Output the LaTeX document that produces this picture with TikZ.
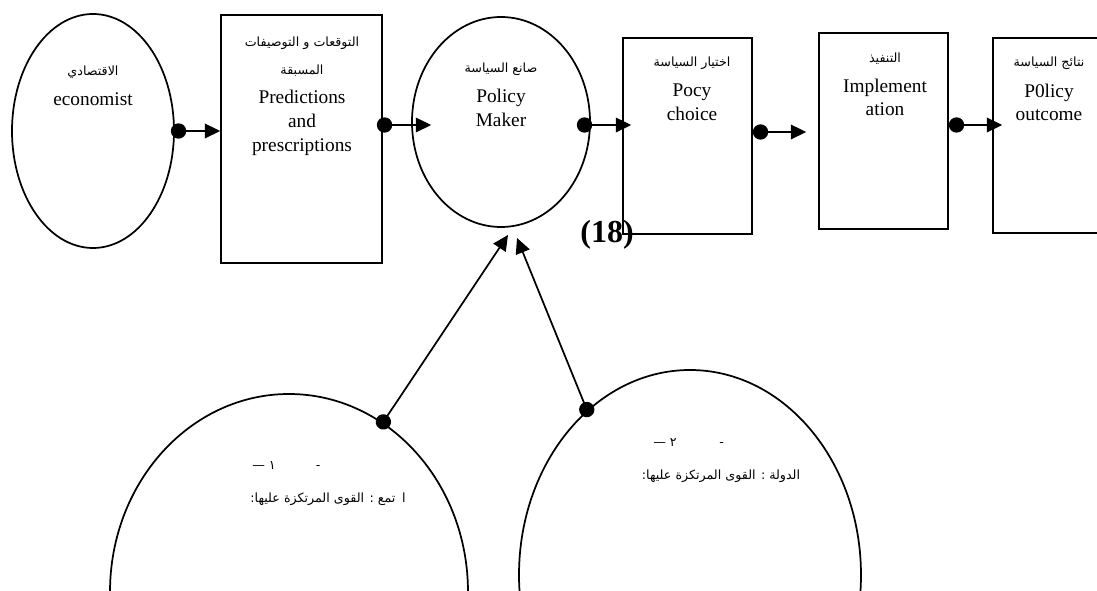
\documentclass[tikz,border=0pt]{standalone}
\usepackage{fontspec}
\setmainfont{Liberation Serif}
\newfontfamily\arabicfont[Script=Arabic]{DejaVu Sans}
\TeXXeTstate=1
\usetikzlibrary{arrows.meta,shapes.geometric}

\begin{document}
\begin{tikzpicture}[x=0.75pt, y=-0.75pt]
  % Sizes
  \def\px{0.75pt}
  \def\lw{1.3pt}
  %
  \tikzset{
    obox/.style={draw, line width=\lw, rectangle, inner sep=0pt},
    oval/.style={draw, line width=\lw, ellipse, inner sep=0pt},
    entxt/.style={anchor=base, inner sep=0pt, font=\fontsize{14.5}{18}\selectfont},
    artxt/.style={anchor=base, inner sep=0pt, font=\fontsize{9.5}{11}\selectfont\arabicfont},
    flow/.style={line width=\lw, {Circle[length=11.5pt]}-{Triangle[length=11.5pt, width=11pt]}},
  }
  %
  \useasboundingbox (0,0) rectangle (1097,591);
  \clip (0,0) rectangle (1097,591);
  %
  %%% TOP ROW %%%
  \node[oval, minimum width=162*\px, minimum height=234*\px] (econ) at (93,131) {};
  \node[obox, minimum width=161*\px, minimum height=248*\px] (pred) at (301.5,139) {};
  \node[oval, minimum width=178*\px, minimum height=210*\px] (maker) at (501,122) {};
  \node[obox, minimum width=129*\px, minimum height=196*\px] (choice) at (687.5,136) {};
  \node[obox, minimum width=129*\px, minimum height=196*\px] (impl) at (883.5,131) {};
  \node[obox, minimum width=114*\px, minimum height=195*\px] (outc) at (1050,135.5) {};
  %
  %%% BOTTOM ROW %%%
  \node[oval, minimum width=358*\px, minimum height=396*\px] (soc) at (289,592) {};
  \node[oval, minimum width=342*\px, minimum height=410*\px] (state) at (690,575) {};
  %
  % Arabic labels
  \foreach \x/\y/\txt [count=\i] in {
    93/76/{الاقتصادي}, 302/47/{التوقعات و التوصيفات}, 302/75/{المسبقة},
    501/73/{صانع السياسة}, 692/67/{اختيار السياسة}, 885/63/{التنفيذ},
    1049/67/{نتائج السياسة}%
  } {
    \node[artxt] (ar\i) at (\x,\y) {\beginR\txt\endR};
  }
  %
  % English labels
  \foreach \x/\y/\txt [count=\i] in {
    93/106/economist, 302/104/Predictions, 302/128/and, 302/152/prescriptions,
    501/103/Policy, 501/127/Maker, 692/97/Pocy, 692/121/choice,
    885/93/Implement, 885/116/ation, 1049/98/P0licy, 1049/121/outcome%
  } {
    \node[entxt] (en\i) at (\x,\y) {\txt};
  }
  %
  \node[anchor=base, inner sep=0pt, font=\fontsize{24}{26}\selectfont\bfseries] (fig) at (607,243) {(18)};
  %
  % Texts in the lower ovals
  \node[artxt, anchor=base west] (socnum) at (252,470) {\beginR -\hspace{30pt}١ —\endR};
  \node[artxt] (soctxt) at (328,503) {\beginR ا\hspace{5pt}تمع : القوى المرتكزة عليها:\endR};
  \node[artxt, anchor=base west] (statenum) at (653,447) {\beginR -\hspace{32pt}٢ —\endR};
  \node[artxt] (statetxt) at (721,480) {\beginR الدولة : القوى المرتكزة عليها:\endR};
  %
  %%% CONNECTORS %%%
  \draw[flow, shorten <=-3pt] (econ.east) -- (econ.east -| pred.west);
  \coordinate (p2) at ([yshift=10.5pt]pred.east);
  \draw[flow, shorten <=-4.5pt, shorten >=-15pt] (p2) -- (p2 -| maker.west);
  \coordinate (p3) at ([yshift=-2.25pt]maker.east);
  \draw[flow, shorten <=-10.5pt, shorten >=-6.75pt] (p3) -- (p3 -| choice.west);
  \coordinate (p4) at ([yshift=3pt]choice.east);
  \draw[flow, shorten >=9pt] (p4) -- (p4 -| impl.west);
  \coordinate (p5) at ([yshift=4.5pt]impl.east);
  \draw[flow, shorten >=-7.5pt] (p5) -- (p5 -| outc.west);
  %
  % up to the policy maker
  \coordinate (pm1) at (508,235);
  \coordinate (pm2) at (517,238);
  \draw[flow, shorten <=-5.25pt] (soc.61) -- (pm1);
  \draw[flow, shorten <=-5.25pt] (state.122) -- (pm2);
\end{tikzpicture}
\end{document}
